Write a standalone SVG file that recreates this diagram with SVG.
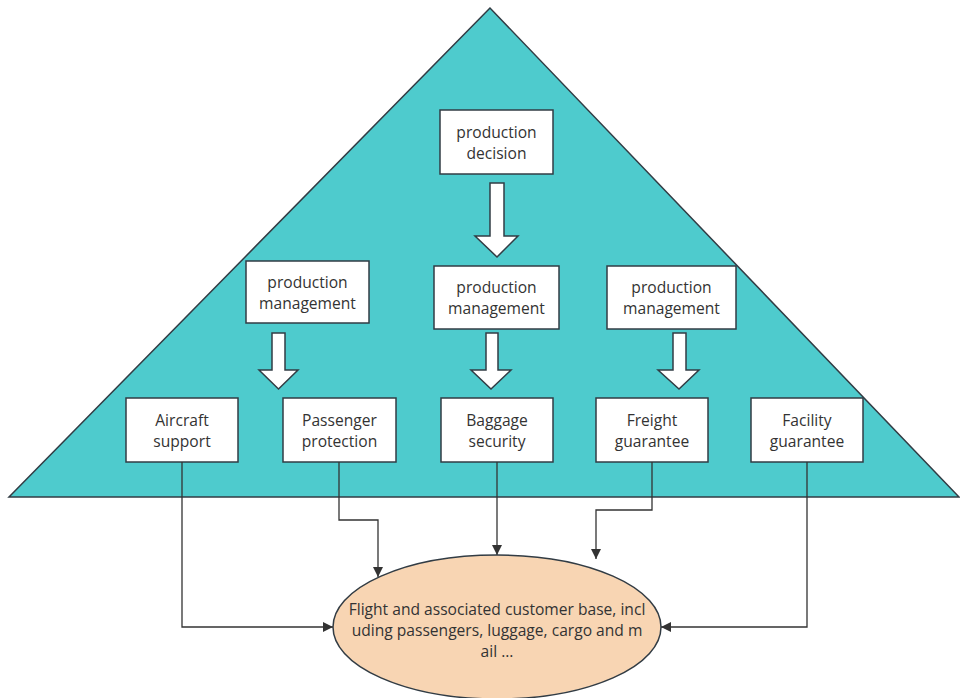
<svg xmlns="http://www.w3.org/2000/svg" width="960" height="698" viewBox="0 0 960 698">
<defs>
<style>
.box{fill:#fff;stroke:#323c44;stroke-width:1.5}
.t{font-family:"Open Sans","Noto Sans",sans-serif;font-size:15.6px;fill:#333;text-anchor:middle}
.c{fill:none;stroke:#333;stroke-width:1.3}
.ba{fill:#fff;stroke:#323c44;stroke-width:1.5}
</style>
<marker id="ah" viewBox="0 0 10 10" refX="10" refY="5" markerWidth="10" markerHeight="10" markerUnits="userSpaceOnUse" orient="auto">
<path d="M0,0 L10,5 L0,10 z" fill="#333"/>
</marker>
</defs>
<rect width="960" height="698" fill="#fff"/>
<polygon id="pyramid" points="490,8 9,497 959,497" fill="#4ecbcd" stroke="#323c44" stroke-width="1.5"/>
<g id="arrows">
<path class="ba" d="M490,183 H504 V236 H518 L497,257 L475,236 H490 Z"/>
<path class="ba" d="M272,333 H285 V370 H298 L278.5,389 L259,370 H272 Z"/>
<path class="ba" d="M486,333 H498 V370 H511 L491,389 L471,370 H486 Z"/>
<path class="ba" d="M673,333 H686 V370 H699 L679,389 L658,370 H673 Z"/>
</g>
<g id="n-decision"><rect class="box" x="440" y="110" width="113" height="64"/><text class="t" x="496.5" y="138">production</text><text class="t" x="496.5" y="159">decision</text></g>
<g id="n-pm1"><rect class="box" x="246" y="261" width="123" height="62"/><text class="t" x="307.5" y="288">production</text><text class="t" x="307.5" y="309">management</text></g>
<g id="n-pm2"><rect class="box" x="434" y="266" width="125" height="63"/><text class="t" x="496.5" y="293">production</text><text class="t" x="496.5" y="314">management</text></g>
<g id="n-pm3"><rect class="box" x="607" y="266" width="129" height="63"/><text class="t" x="671.5" y="293">production</text><text class="t" x="671.5" y="314">management</text></g>
<g id="n-aircraft"><rect class="box" x="126" y="398" width="112" height="64"/><text class="t" x="182" y="426">Aircraft</text><text class="t" x="182" y="447">support</text></g>
<g id="n-passenger"><rect class="box" x="283" y="398" width="113" height="64"/><text class="t" x="339.5" y="426">Passenger</text><text class="t" x="339.5" y="447">protection</text></g>
<g id="n-baggage"><rect class="box" x="441" y="398" width="112" height="64"/><text class="t" x="497" y="426">Baggage</text><text class="t" x="497" y="447">security</text></g>
<g id="n-freight"><rect class="box" x="596" y="398" width="112" height="64"/><text class="t" x="652" y="426">Freight</text><text class="t" x="652" y="447">guarantee</text></g>
<g id="n-facility"><rect class="box" x="751" y="398" width="112" height="64"/><text class="t" x="807" y="426">Facility</text><text class="t" x="807" y="447">guarantee</text></g>
<g id="connectors">
<path class="c" d="M182,462 V627 H333" marker-end="url(#ah)"/>
<path class="c" d="M339,462 V520 H378 V577" marker-end="url(#ah)"/>
<path class="c" d="M497,462 V555" marker-end="url(#ah)"/>
<path class="c" d="M652,462 V510 H596 V559" marker-end="url(#ah)"/>
<path class="c" d="M807,462 V627 H661" marker-end="url(#ah)"/>
</g>
<g id="n-target">
<ellipse cx="497" cy="627" rx="164" ry="72" fill="#f8d5b3" stroke="#323c44" stroke-width="1.5"/>
<text class="t" x="497" y="615">Flight and associated customer base, incl</text>
<text class="t" x="497" y="636">uding passengers, luggage, cargo and m</text>
<text class="t" x="497" y="657">ail ...</text>
</g>
</svg>
